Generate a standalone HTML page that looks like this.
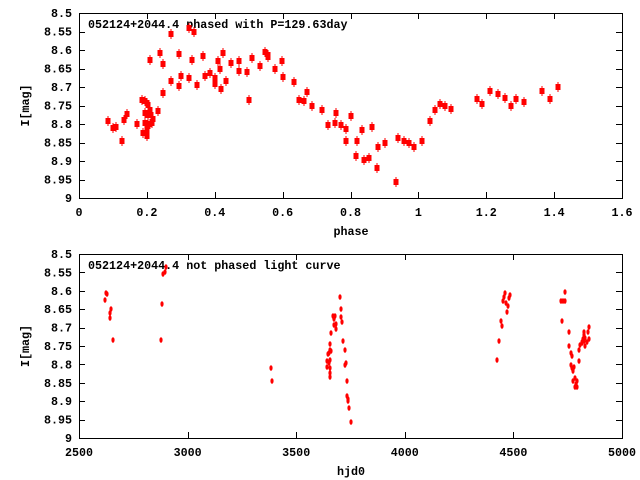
<!DOCTYPE html>
<html><head><meta charset="utf-8"><style>
html,body{margin:0;padding:0;background:#fff}
svg{display:block}
text{font-family:"Liberation Mono",monospace;font-weight:bold;font-size:11.7px;fill:#000}
</style></head><body>
<svg id="s" width="640" height="480" xmlns="http://www.w3.org/2000/svg">
<rect width="640" height="480" fill="#fff"/>
<g id="g"></g>
</svg>
<script>
(function(){
var g=document.getElementById('g'),h='';
function frame(L,T,R,B,ylabels,xlabels,xl,title){
  h+='<rect x="'+(L+.5)+'" y="'+(T+.5)+'" width="'+(R-L)+'" height="'+(B-T)+'" fill="none" stroke="#000" stroke-width="1"/>';
  var n=ylabels.length-1;
  for(var i=0;i<=n;i++){var y=T+(B-T)*i/n;var yy=Math.round(y)+.5;
    h+='<line x1="'+L+'" x2="'+(L+6)+'" y1="'+yy+'" y2="'+yy+'" stroke="#000"/>';
    h+='<line x1="'+(R-6)+'" x2="'+R+'" y1="'+yy+'" y2="'+yy+'" stroke="#000"/>';
    h+='<text x="72" y="'+(y+4)+'" text-anchor="end">'+ylabels[i]+'</text>';}
  var m=xlabels.length-1;
  for(var i=0;i<=m;i++){var x=L+(R-L)*i/m;var xx=Math.round(x)+.5;
    h+='<line y1="'+B+'" y2="'+(B-6)+'" x1="'+xx+'" x2="'+xx+'" stroke="#000"/>';
    h+='<line y1="'+T+'" y2="'+(T+6)+'" x1="'+xx+'" x2="'+xx+'" stroke="#000"/>';
    h+='<text x="'+x+'" y="'+(B+18)+'" text-anchor="middle">'+xlabels[i]+'</text>';}
  h+='<text x="351" y="'+(B+37)+'" text-anchor="middle">'+xl+'</text>';
  var cy=(T+B)/2;
  h+='<text x="0" y="0" text-anchor="middle" transform="translate(29,'+cy+') rotate(-90)">I[mag]</text>';
  h+='<text x="88" y="'+(T+15)+'">'+title+'</text>';
}
var yl=['8.5','8.55','8.6','8.65','8.7','8.75','8.8','8.85','8.9','8.95','9'];
frame(79,13,622,198,yl,['0','0.2','0.4','0.6','0.8','1','1.2','1.4','1.6'],'phase','052124+2044.4 phased with P=129.63day');
frame(79,254,622,438,yl,['2500','3000','3500','4000','4500','5000'],'hjd0','052124+2044.4 not phased light curve');
var tp=[[108,121],[113,128],[116,127],[122,141],[124,120],[127,114],[137,124],[142,100],[145,101],[147,103],[148,105],[150,110],[145,113],[148,115],[151,115],[145,123],[147,127],[148,125],[150,124],[152,123],[153,119],[143,133],[145,133],[147,136],[147,130],[150,60],[158,111],[160,53],[163,64],[163,93],[171,34],[171,81],[179,54],[179,86],[181,76],[189,28],[189,78],[192,60],[194,32],[197,85],[203,56],[205,76],[210,73],[215,78],[215,84],[218,61],[220,69],[223,53],[221,89],[226,81],[231,63],[239,61],[239,71],[247,72],[249,100],[252,58],[260,66],[265,52],[268,55],[268,57],[275,69],[283,77],[282,61],[294,82],[299,100],[304,101],[307,92],[312,106],
[322,110],[328,125],[335,123],[336,113],[341,125],[346,129],[346,141],[351,116],[356,156],[357,141],[362,130],[364,160],[369,158],[372,127],[378,147],[377,168],[385,143],[396,182],[398,138],[404,141],[409,143],[414,147],[422,141],[430,121],[435,110],[440,104],[445,106],[451,109],[477,99],[482,104],[490,91],[498,94],[505,98],[511,106],[516,99],[524,102],[542,91],[550,99],[558,87]];
tp.forEach(function(p){var x=p[0],y=p[1];
  h+='<rect x="'+(x-2.5)+'" y="'+(y-3)+'" width="5" height="6" fill="#f00"/>';
  h+='<line x1="'+x+'" x2="'+x+'" y1="'+(y-5)+'" y2="'+(y+5)+'" stroke="#f00" stroke-width="1"/>';});
var bt=[[106,293],[107,294],[105,300],[111,309],[110,313],[110,318],[113,340],[166,267],[165,272],[163,274],[162,304],[161,340],[271,368],[272,381],
[340,297],[341,309],[333,316],[335,316],[341,317],[334,319],[342,322],[334,325],[336,324],[336,329],[331,333],[343,341],[330,344],[345,350],[330,350],[331,351],[328,354],[329,353],[346,363],[345,365],[327,361],[330,360],[329,363],[327,367],[330,368],[330,373],[330,377],[347,381],[347,396],[348,399],[348,401],[349,408],[351,422],
[497,360],[499,341],[501,321],[502,326],[503,301],[504,297],[505,293],[506,303],[507,312],[508,306],[509,298],[510,295],
[561,301],[563,301],[565,301],[565,292],[562,321],[569,332],[569,346],[571,353],[572,356],[571,365],[572,368],[574,367],[573,371],[573,381],[575,378],[577,381],[575,387],[577,387],[576,384],[579,361],[579,350],[580,345],[582,343],[583,339],[584,332],[585,338],[585,346],[587,342],[588,332],[589,339],[589,327],[584,335],[584,341],[582,342]];
bt.forEach(function(p){h+='<ellipse cx="'+p[0]+'" cy="'+p[1]+'" rx="1.6" ry="2.8" fill="#f00"/>';});
g.innerHTML=h;
})();
</script>
</body></html>
